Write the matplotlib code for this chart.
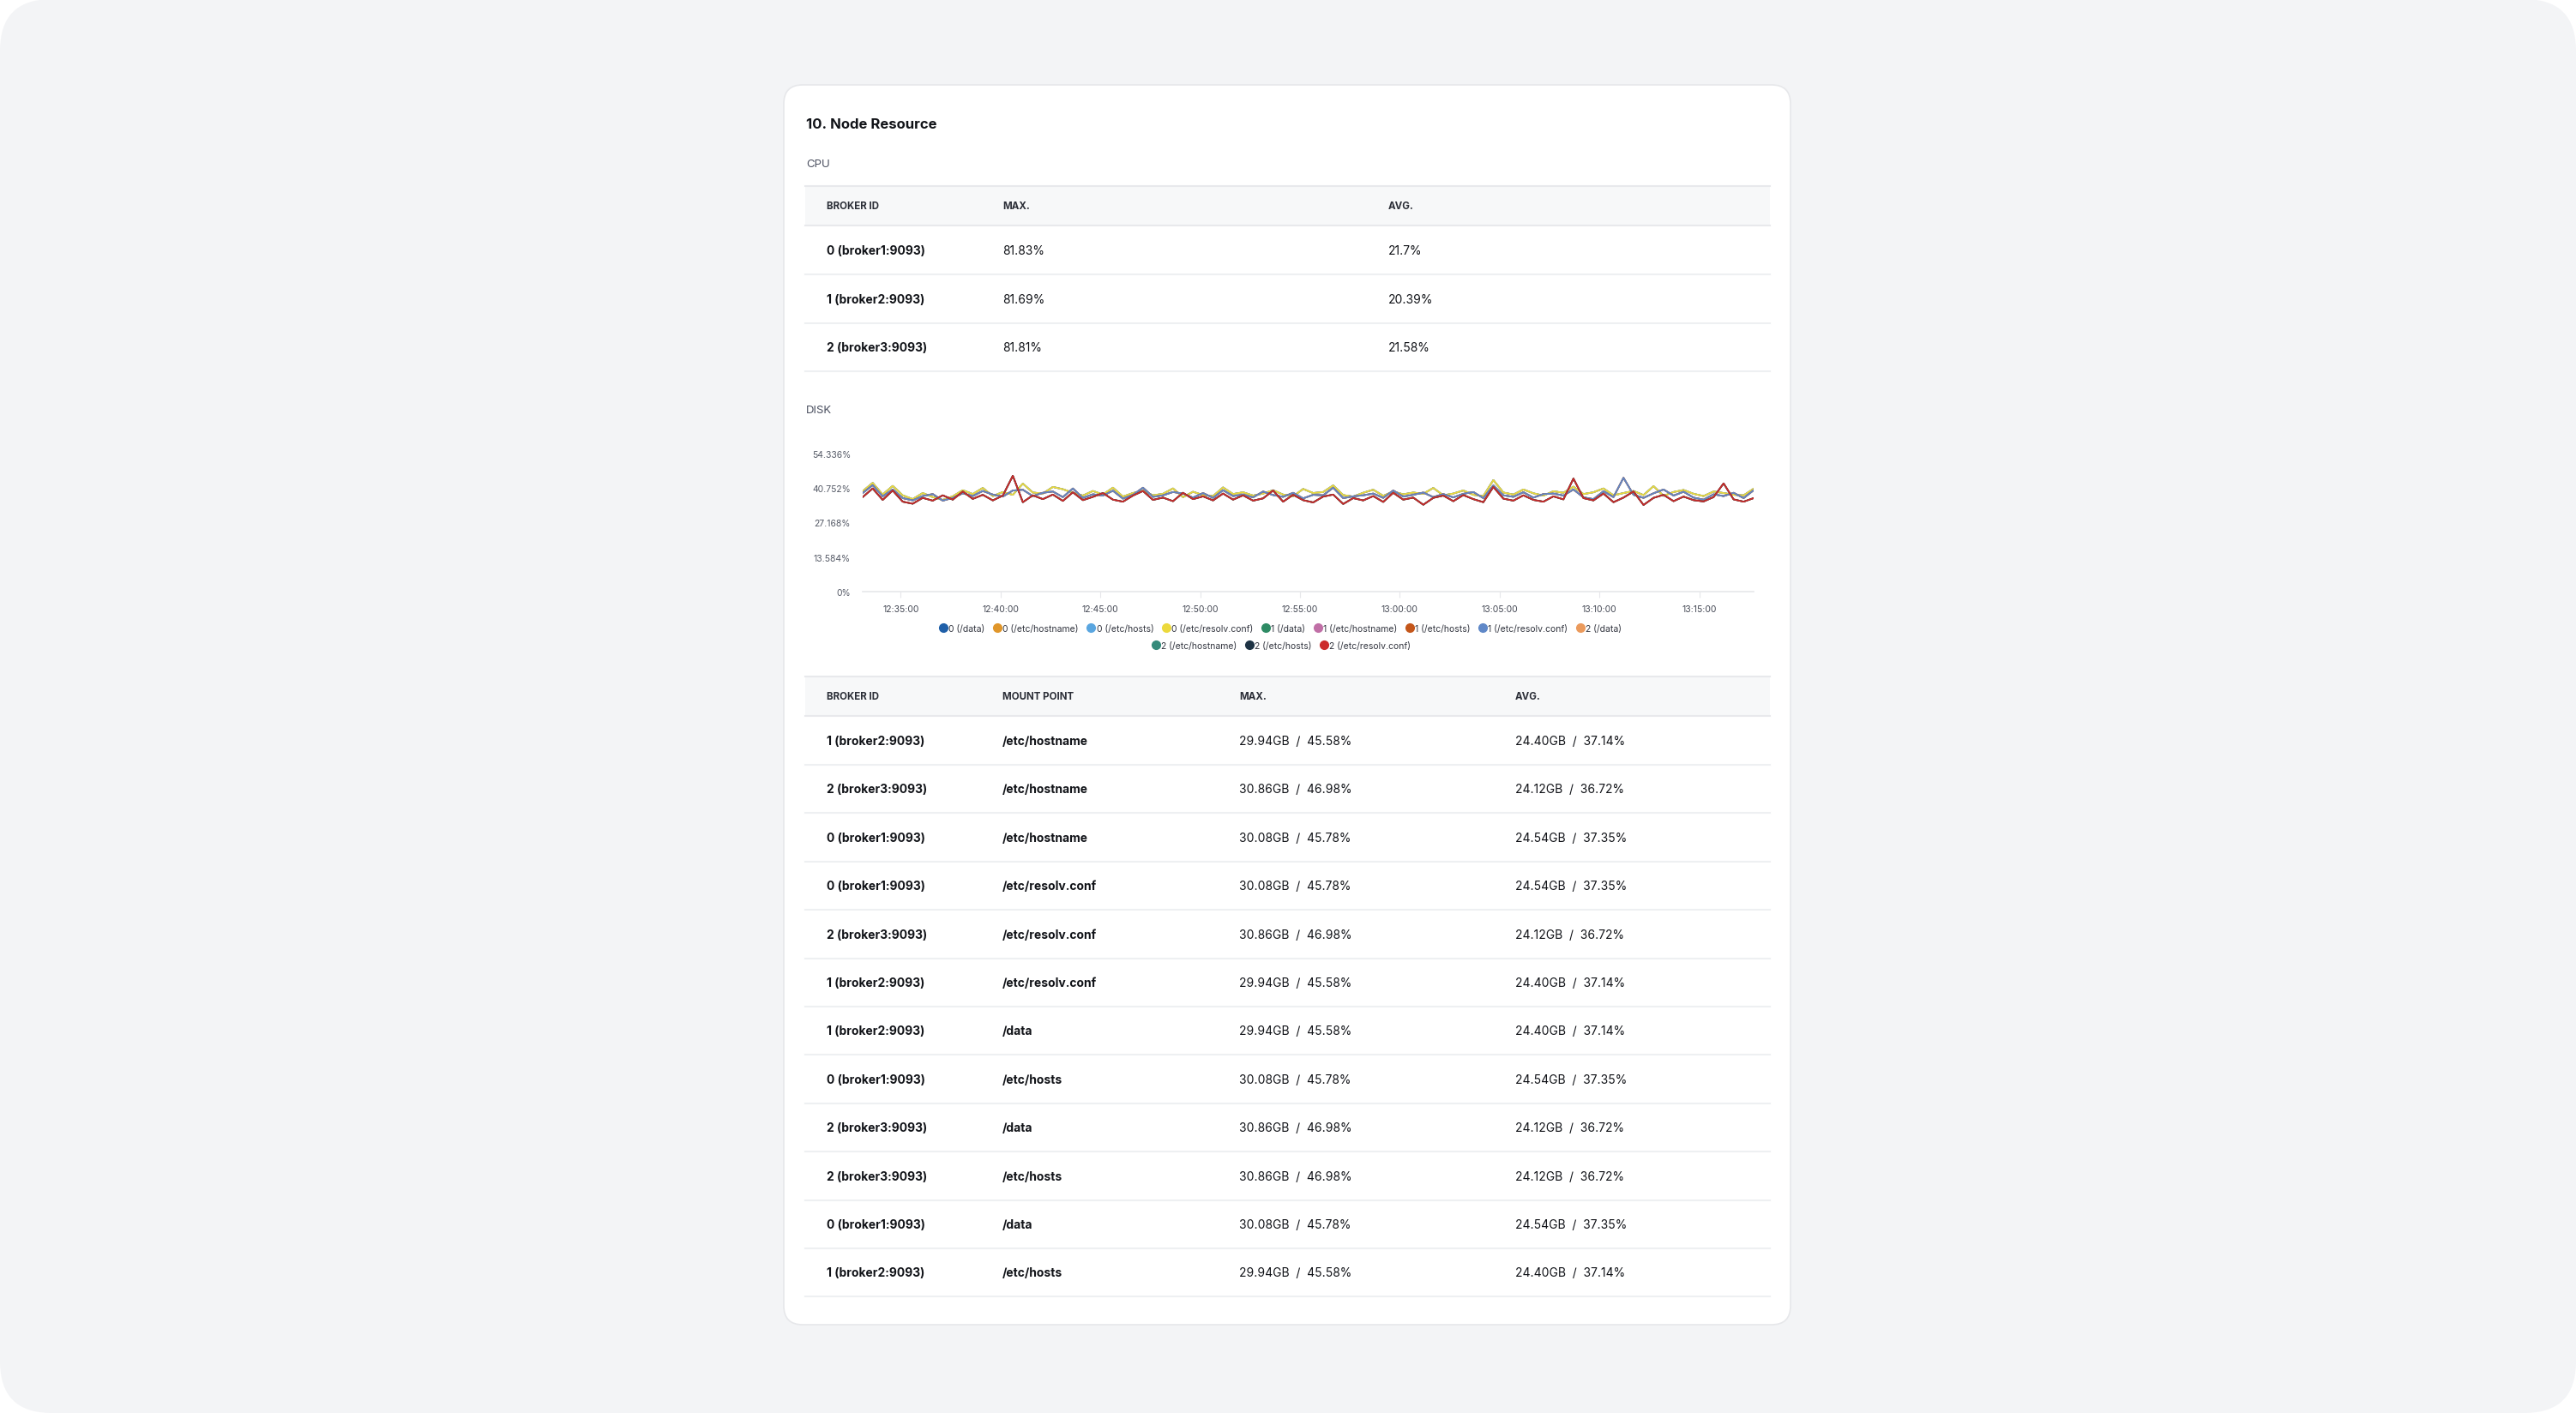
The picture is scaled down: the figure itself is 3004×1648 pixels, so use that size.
import numpy as np
import pandas as pd
import matplotlib
matplotlib.use("Agg")
import matplotlib.pyplot as plt
import matplotlib.dates as mdates
from matplotlib.patches import FancyBboxPatch, Rectangle
from matplotlib.lines import Line2D

plt.rcParams['font.family'] = ['Inter', 'DejaVu Sans']

W, H = 3004, 1649

# ---- data ----
cpu_brokers = ["0 (broker1:9093)", "1 (broker2:9093)", "2 (broker3:9093)"]
cpu_max = ["81.83%", "81.69%", "81.81%"]
cpu_avg = ["21.7%", "20.39%", "21.58%"]

disk_broker = ["1 (broker2:9093)", "2 (broker3:9093)", "0 (broker1:9093)", "0 (broker1:9093)",
               "2 (broker3:9093)", "1 (broker2:9093)", "1 (broker2:9093)", "0 (broker1:9093)",
               "2 (broker3:9093)", "2 (broker3:9093)", "0 (broker1:9093)", "1 (broker2:9093)"]
disk_mount = ["/etc/hostname", "/etc/hostname", "/etc/hostname", "/etc/resolv.conf",
              "/etc/resolv.conf", "/etc/resolv.conf", "/data", "/etc/hosts",
              "/data", "/etc/hosts", "/data", "/etc/hosts"]
max_by_broker = {"0": "30.08GB  /  45.78%", "1": "29.94GB  /  45.58%", "2": "30.86GB  /  46.98%"}
avg_by_broker = {"0": "24.54GB  /  37.35%", "1": "24.40GB  /  37.14%", "2": "24.12GB  /  36.72%"}

# disk usage % per broker (same for every mount point of a broker)
disk_pct_b0 = [39.5, 42.8, 38.2, 41.6, 37.9, 36.4, 38.8, 37.2, 36.1, 37.5, 39.9, 38.4, 40.8, 37.6, 39.2,
               38.1, 42.5, 39.0, 38.6, 41.2, 40.3, 38.9, 37.8, 39.6, 38.2, 40.9, 37.4, 38.8, 39.7, 37.9,
               38.5, 40.6, 37.2, 39.3, 38.0, 37.6, 41.0, 38.4, 39.1, 37.8, 38.6, 39.9, 38.2, 37.5, 40.4,
               38.8, 39.2, 41.8, 38.0, 37.4, 38.9, 40.1, 37.7, 39.4, 38.3, 39.0, 38.5, 40.8, 37.9, 38.6,
               39.8, 38.1, 37.6, 43.9, 39.0, 38.2, 40.2, 38.7, 37.8, 39.5, 38.9, 41.3, 38.4, 39.1, 40.6,
               37.9, 38.8, 39.6, 38.0, 41.5, 37.7, 39.2, 40.0, 38.5, 37.6, 39.4, 38.8, 38.1, 37.9, 40.5]
disk_pct_b1 = [38.8, 41.9, 37.5, 40.2, 36.8, 35.9, 37.6, 38.4, 35.8, 36.9, 38.7, 37.6, 39.6, 38.2, 37.4,
               39.8, 40.1, 37.6, 38.9, 39.4, 37.2, 40.6, 36.9, 38.3, 37.8, 39.7, 36.6, 38.1, 40.9, 37.3,
               37.9, 39.2, 38.6, 37.0, 38.8, 36.9, 39.9, 37.6, 38.2, 37.1, 39.4, 38.0, 37.3, 38.9, 36.7,
               38.1, 37.9, 40.9, 36.8, 37.5, 37.9, 38.6, 36.9, 39.8, 37.4, 38.1, 39.0, 37.2, 38.4, 37.1,
               38.5, 39.2, 36.8, 41.8, 37.9, 37.3, 39.1, 37.0, 38.4, 38.6, 37.8, 40.2, 37.1, 36.4, 39.5,
               37.2, 44.8, 38.1, 36.9, 38.7, 40.2, 37.8, 39.3, 37.0, 36.2, 38.3, 37.6, 38.9, 36.8, 39.9]
disk_pct_b2 = [37.2, 40.6, 36.1, 39.8, 35.4, 34.6, 36.9, 35.8, 37.9, 36.2, 39.4, 36.5, 38.1, 35.9, 37.8,
               45.6, 35.2, 37.9, 36.4, 38.2, 35.7, 39.1, 36.0, 37.3, 38.8, 36.2, 35.4, 37.8, 39.6, 36.1,
               37.0, 35.6, 38.9, 36.4, 37.5, 35.9, 38.6, 36.2, 37.9, 35.8, 36.7, 39.8, 35.4, 38.1, 36.0,
               35.1, 37.4, 38.2, 34.5, 36.8, 35.9, 37.6, 35.3, 38.9, 36.2, 37.0, 34.2, 36.9, 37.8, 35.6,
               38.0, 36.4, 35.2, 41.2, 36.6, 35.8, 37.9, 36.1, 35.4, 37.5, 36.3, 44.5, 36.8, 35.9, 38.6,
               35.2, 37.0, 39.4, 34.1, 36.9, 38.1, 35.6, 37.4, 36.0, 35.5, 37.2, 42.6, 36.3, 35.4, 36.8]

series_names = ["0 (/data)", "0 (/etc/hostname)", "0 (/etc/hosts)", "0 (/etc/resolv.conf)",
                "1 (/data)", "1 (/etc/hostname)", "1 (/etc/hosts)", "1 (/etc/resolv.conf)",
                "2 (/data)", "2 (/etc/hostname)", "2 (/etc/hosts)", "2 (/etc/resolv.conf)"]
series_colors = ["#1f5fa8", "#e0962a", "#5aa6e0", "#ecd93c", "#2e8b64", "#c06fa6",
                 "#c4561a", "#5f88c8", "#eb9a5c", "#348a7a", "#1e3344", "#cc2b2b"]

t_start, t_end = "2024-01-01 12:33:06", "2024-01-01 13:17:43"

# ---- figure ----
fig = plt.figure(figsize=(W / 100, H / 100), dpi=100)
fig.patch.set_facecolor("white")
bg = fig.add_axes([0, 0, 1, 1])
bg.set_xlim(0, W)
bg.set_ylim(H, 0)
bg.axis("off")
bg.add_patch(FancyBboxPatch((0, 0), W, H, boxstyle="round,pad=0,rounding_size=60",
                            fc="#f3f4f6", ec="none"))
bg.add_patch(FancyBboxPatch((914, 100), 1174, 1446, boxstyle="round,pad=0,rounding_size=22",
                            fc="white", ec="#e6e7ea", lw=1.2))

dark = "#111318"
bg.text(940, 146, "10. Node Resource", fontsize=12, fontweight="bold", color=dark, va="center")
bg.text(940, 192, "CPU", fontsize=9.5, color="#4b5060", va="center")
bg.text(940, 479, "DISK", fontsize=9.5, color="#4b5060", va="center")

L, R = 939, 2064


def header(y0, y1, cols):
    bg.add_patch(Rectangle((L, y0), R - L, y1 - y0, fc="#f7f8f9", ec="none"))
    bg.plot([L, R], [y0, y0], color="#e8e9ec", lw=1.5)
    bg.plot([L, R], [y1, y1], color="#e8e9ec", lw=1.5)
    for x, s in cols:
        bg.text(x, (y0 + y1) / 2, s, fontsize=8.3, fontweight="bold", color="#2a2d36", va="center")


# CPU table
header(218, 264, [(964, "BROKER ID"), (1169, "MAX."), (1619, "AVG.")])
for i, b in enumerate(cpu_brokers):
    y = 293 + i * 56.5
    bg.text(964, y, b, fontsize=10, fontweight="bold", color=dark, va="center")
    bg.text(1169, y, cpu_max[i], fontsize=10, color=dark, va="center")
    bg.text(1619, y, cpu_avg[i], fontsize=10, color=dark, va="center")
    bg.plot([L, R], [y + 28, y + 28], color="#eef0f2", lw=1.5)

# disk table
header(790, 836, [(964, "BROKER ID"), (1169, "MOUNT POINT"), (1445, "MAX."), (1767, "AVG.")])
for i, b in enumerate(disk_broker):
    y = 865 + i * 56.4
    k = b[0]
    bg.text(964, y, b, fontsize=10, fontweight="bold", color=dark, va="center")
    bg.text(1169, y, disk_mount[i], fontsize=10, fontweight="bold", color=dark, va="center")
    bg.text(1445, y, max_by_broker[k], fontsize=10, color=dark, va="center")
    bg.text(1767, y, avg_by_broker[k], fontsize=10, color=dark, va="center")
    bg.plot([L, R], [y + 28, y + 28], color="#eef0f2", lw=1.5)

# line chart
ax = fig.add_axes([1006 / W, 1 - 691 / H, (2045 - 1006) / W, (691 - 530) / H])
per_broker = [disk_pct_b0, disk_pct_b1, disk_pct_b2]
for j, (name, col) in enumerate(zip(series_names, series_colors)):
    vals = per_broker[j // 4]
    t = pd.date_range(t_start, t_end, periods=len(vals))
    ax.plot(t, vals, color=col, lw=1.3)
ax.set_xlim(pd.Timestamp(t_start), pd.Timestamp(t_end))
yt = [0, 13.584, 27.168, 40.752, 54.336]
ax.set_ylim(0, 54.336)
ax.set_yticks(yt)
ax.set_yticklabels(["0%", "13.584%", "27.168%", "40.752%", "54.336%"])
ax.xaxis.set_major_locator(mdates.MinuteLocator(byminute=range(0, 60, 5)))
ax.xaxis.set_major_formatter(mdates.DateFormatter("%H:%M:%S"))
for s in ["top", "right", "left"]:
    ax.spines[s].set_visible(False)
ax.spines["bottom"].set_color("#e6e7ea")
ax.spines["bottom"].set_linewidth(1.2)
ax.tick_params(axis="y", length=0, labelsize=7.5, labelcolor="#555a66", pad=10)
ax.tick_params(axis="x", length=5, color="#e6e7ea", labelsize=7.5, labelcolor="#444854", pad=6)
ax.set_facecolor("none")

handles = [Line2D([], [], ls="none", marker="o", ms=7, mfc=c, mec=c) for c in series_colors]
kw = dict(frameon=False, fontsize=7.5, handletextpad=0.1, columnspacing=0.9,
          handlelength=1.0, labelcolor="#333640")
fig.legend(handles[:9], series_names[:9], loc="center", ncol=9,
           bbox_to_anchor=(1493 / W, 1 - 734 / H), **kw)
fig.legend(handles[9:], series_names[9:], loc="center", ncol=3,
           bbox_to_anchor=(1494 / W, 1 - 754 / H), **kw)

fig.savefig("out.png", dpi=100)
